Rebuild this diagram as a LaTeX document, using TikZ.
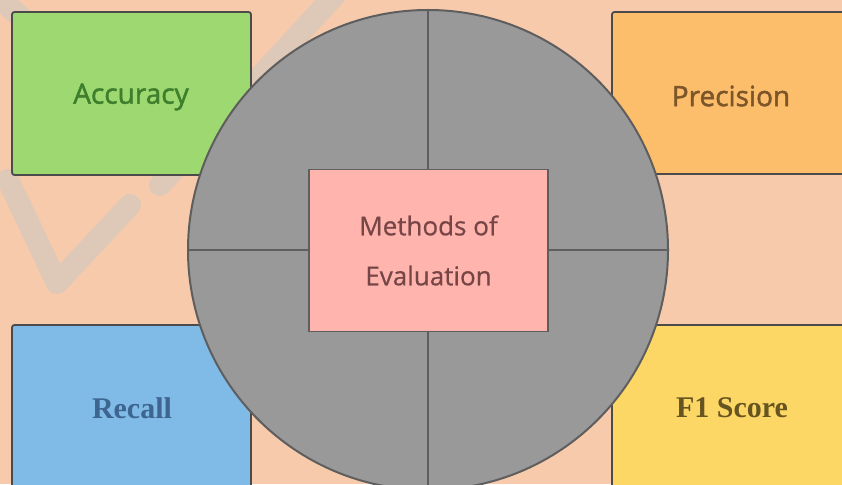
\documentclass[tikz,border=0pt]{standalone}
\usepackage{fontspec}
\setmainfont{Open Sans}
\newfontfamily\semisans[BoldFont={Open Sans},BoldFeatures={FakeBold=1.6}]{Open Sans}
\newfontfamily\medsans[BoldFont={Open Sans},BoldFeatures={FakeBold=0.6}]{Open Sans}
\newfontfamily\serifb{Liberation Serif}
\definecolor{bgc}{HTML}{F7CAAB}
\definecolor{wmc}{HTML}{DEC8B8}
\definecolor{greenc}{HTML}{9DD870}
\definecolor{orangec}{HTML}{FDBE6B}
\definecolor{bluec}{HTML}{80BBE8}
\definecolor{yellowc}{HTML}{FDD766}
\definecolor{pinkc}{HTML}{FFB4AE}
\definecolor{grayc}{HTML}{999999}
\definecolor{edgec}{HTML}{5E5E5E}
\definecolor{tgreen}{HTML}{3E7E2C}
\definecolor{tbrown}{HTML}{7C5528}
\definecolor{tblue}{HTML}{3D6590}
\definecolor{tolive}{HTML}{665520}
\definecolor{tpink}{HTML}{764646}
\tikzset{
  metricbox/.style={draw=edgec!80!black, line width=1.8pt, rounded corners=2.5pt},
  wmark/.style={draw=wmc, line width=22pt, line cap=round, line join=round},
  sanslabel/.style={font=\semisans\fontsize{28}{32}\selectfont\bfseries},
  seriflabel/.style={font=\serifb\fontsize{30}{34}\selectfont\bfseries},
}
\begin{document}
\begin{tikzpicture}[x=1pt,y=-1pt]
\useasboundingbox (0,0) rectangle (842,484);
\fill[bgc] (0,0) rectangle (842,484);
% watermark strokes
\draw[wmark] (8,180) -- (57,283) -- (130,205);
\draw[wmark] (160,185) -- (335,-5);
\draw[wmark] (-5,-5) -- (22,18);
% metric boxes
\draw[metricbox, fill=greenc] (12,12) rectangle (251,175);
\draw[metricbox, fill=orangec] (612,12) rectangle (852,174);
\draw[metricbox, fill=bluec] (12,325) rectangle (251,494);
\draw[metricbox, fill=yellowc] (612,325) rectangle (852,494);
\node[sanslabel, text=tgreen] (acc) at (131,97) {Accuracy};
\node[sanslabel, text=tbrown] (prec) at (731,96) {Precision};
\node[seriflabel, text=tblue] (rec) at (132,408) {Recall};
\node[seriflabel, text=tolive] (f1) at (732,408) {F1 Score};
% circle
\node[circle, draw=edgec, line width=2pt, fill=grayc, minimum size=480pt, inner sep=0pt] (circ) at (428,250) {};
\draw[edgec, line width=2pt] (circ.north) -- (circ.south);
\draw[edgec, line width=2pt] (circ.west) -- (circ.east);
% center box
\node[draw=edgec, line width=1.8pt, fill=pinkc, minimum width=239pt, minimum height=162pt, inner sep=0pt, align=center, text=tpink, font=\medsans\fontsize{26}{50}\selectfont\bfseries] (center) at (428.5,250.5) {Methods of\\Evaluation};
\end{tikzpicture}
\end{document}
